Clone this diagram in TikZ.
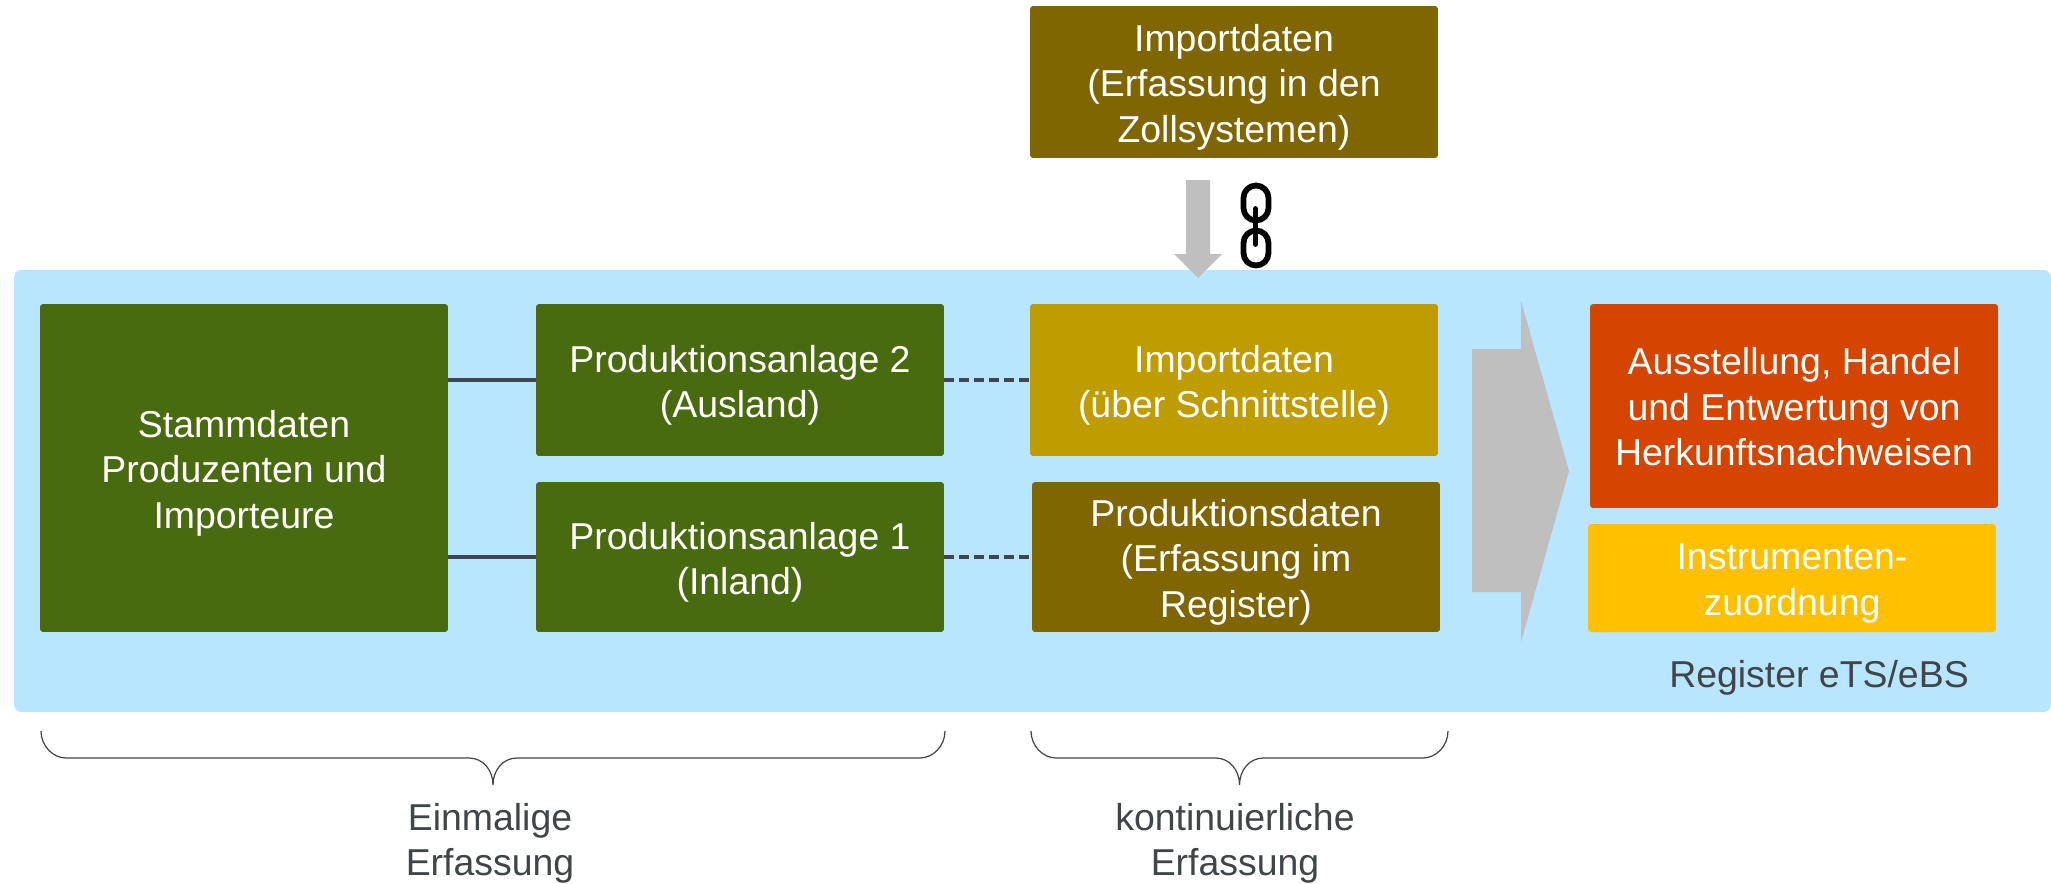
\documentclass[tikz,border=0pt]{standalone}
\usepackage{fontspec}
\setmainfont{Liberation Sans}
\usepackage{tikz}
\definecolor{panelblau}{HTML}{B8E5FF}
\definecolor{gruen}{HTML}{4A6A10}
\definecolor{braun}{HTML}{7F6600}
\definecolor{gold}{HTML}{BF9C00}
\definecolor{rotorange}{HTML}{D54500}
\definecolor{gelb}{HTML}{FFC000}
\definecolor{grau}{HTML}{BFBFBF}
\definecolor{dunkel}{HTML}{404548}
\definecolor{linie}{HTML}{3F4650}
\tikzset{
	textkern/.store in=\textkern,
	textkern=6pt,
	schrift/.style={inner sep=0pt,align=center,font=\fontsize{21.3}{26}\selectfont,execute at begin node={\vbox\bgroup\kern\textkern\hbox\bgroup},execute at end node={\egroup\egroup}},
	kasten/.style={schrift,rounded corners=0.06cm,minimum width=8.16cm,text=white},
	beschriftung/.style={schrift,text=dunkel},
	klammer/.style={draw=dunkel,line width=0.7pt},
	verbindung/.style={draw=linie,line width=0.08cm},
	kette/.style={draw=black,line width=0.115cm,rounded corners=0.25cm}
}

\begin{document}
\begin{tikzpicture}[x=0.02cm,y=-0.02cm]
		\useasboundingbox (0,0) rectangle (2051,883);
		\node[fill=panelblau,rounded corners=0.14cm,inner sep=0pt,minimum width=40.74cm,minimum height=8.84cm] (register) at (1032.5,491) {};
		\node[kasten,fill=braun,minimum height=3.04cm] (import oben) at (1234,82) {Importdaten\\(Erfassung in den\\Zollsystemen)};
		\node[kasten,fill=gruen,minimum height=6.56cm] (stamm) at (244,468) {Stammdaten\\Produzenten und\\Importeure};
		\node[kasten,fill=gruen,minimum height=3.04cm] (anlage 2) at (740,380) {Produktionsanlage 2\\(Ausland)};
		\node[kasten,fill=gruen,minimum height=3cm] (anlage 1) at (740,557) {Produktionsanlage 1\\(Inland)};
		\node[kasten,fill=gold,minimum height=3.04cm] (import) at (1234,380) {Importdaten\\(über Schnittstelle)};
		\node[kasten,fill=braun,minimum height=3cm] (produktion) at (1236,557) {Produktionsdaten\\(Erfassung im\\Register)};
		\node[kasten,fill=rotorange,minimum height=4.08cm,textkern=1pt] (ausstellung) at (1794,406) {Ausstellung, Handel\\und Entwertung von\\Herkunftsnachweisen};
		\node[kasten,fill=gelb,minimum height=2.16cm] (instrumente) at (1792,578) {Instrumenten-\\zuordnung};
		\node[beschriftung] (register text) at (1819,673) {Register eTS/eBS};

		\draw[verbindung] (anlage 2.west -| stamm.east) -- (anlage 2.west);
		\draw[verbindung] (anlage 1.west -| stamm.east) -- (anlage 1.west);
		\draw[verbindung,dash pattern=on 0.2cm off 0.1cm] (anlage 2.east) -- (import.west);
		\draw[verbindung,dash pattern=on 0.2cm off 0.1cm] (anlage 1.east) -- (produktion.west);

		\fill[grau] (1186,180) -- (1210,180) -- (1210,254) -- (1222,254) -- (1198,278) -- (1174,254) -- (1186,254) -- cycle;
		\fill[grau] (1472,349) -- (1521,349) -- (1521,301) -- (1569,471) -- (1521,642) -- (1521,592) -- (1472,592) -- cycle;

		\draw[kette] (1243.5,185.5) rectangle (1268.5,220.5);
		\draw[kette] (1243.5,230.5) rectangle (1268.5,265.5);
		\draw[black,line width=0.115cm,line cap=round] (1255.5,209) -- (1255.5,244);

		\coordinate (a1) at (41,731);
		\coordinate (a2) at (945,731);
		\coordinate (a3) at (493,785);
		\coordinate (b1) at (1031,731);
		\coordinate (b2) at (1448,731);
		\coordinate (b3) at (1239.5,785);
		\draw[klammer] (a1) .. controls +(0,15) and +(-13,0) .. +(25,27) -- (469,758) .. controls +(14,0) and +(0,-15) .. (a3) .. controls +(0,-15) and +(-14,0) .. (517,758) -- (920,758) .. controls +(13,0) and +(0,15) .. (a2);
		\draw[klammer] (b1) .. controls +(0,15) and +(-13,0) .. +(25,27) -- (1215.5,758) .. controls +(14,0) and +(0,-15) .. (b3) .. controls +(0,-15) and +(-14,0) .. (1263.5,758) -- (1423,758) .. controls +(13,0) and +(0,15) .. (b2);
		\node[beschriftung] (einmalig) at (490,838) {Einmalige\\Erfassung};
		\node[beschriftung] (kontinuierlich) at (1235,838) {kontinuierliche\\Erfassung};
	\end{tikzpicture}
\end{document}
